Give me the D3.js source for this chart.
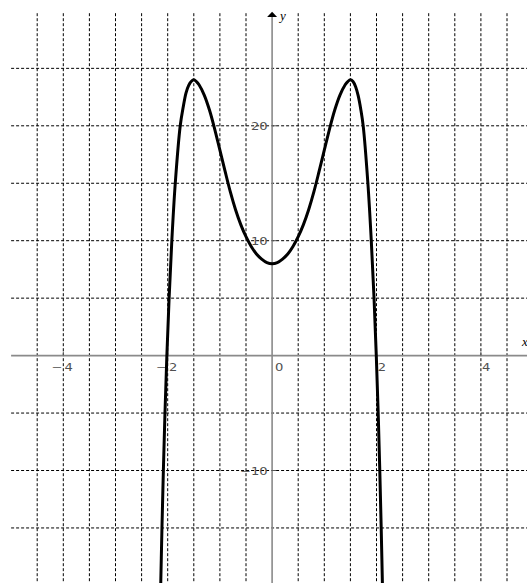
<!DOCTYPE html>
<html>
<head>
<meta charset="utf-8">
<script src="https://cdn.jsdelivr.net/npm/d3@7"></script>
<style>
  html, body { margin: 0; padding: 0; background: #fff; }
  svg { display: block; }
</style>
</head>
<body>
<svg id="chart" width="527" height="583"></svg>
<script>
// ---- data ----
const curveX = [-2.16, -2.134, -2.110, -2.083, -2.052, -2.016, -1.973, -1.921, -1.855, -1.76, -1.70, -1.65, -1.60, -1.55, -1.50, -1.45, -1.40, -1.30, -1.20, -1.10, -1.00, -0.90, -0.80, -0.70, -0.60, -0.50, -0.40, -0.30, -0.20, -0.10, 0.00, 0.10, 0.20, 0.30, 0.40, 0.50, 0.60, 0.70, 0.80, 0.90, 1.00, 1.10, 1.20, 1.30, 1.40, 1.45, 1.50, 1.55, 1.60, 1.65, 1.70, 1.745, 1.835, 1.900, 1.953, 1.996, 2.032, 2.063, 2.090, 2.114, 2.14];
const curveY = [-25, -20, -15, -10, -5, 0, 5, 10, 15, 20, 21.7, 22.85, 23.5, 23.85, 24.0, 23.85, 23.57, 22.67, 21.37, 19.72, 17.88, 16.03, 14.25, 12.7, 11.4, 10.35, 9.5, 8.85, 8.4, 8.1, 8.0, 8.1, 8.4, 8.85, 9.5, 10.35, 11.4, 12.7, 14.25, 16.03, 17.88, 19.72, 21.37, 22.67, 23.57, 23.85, 24.0, 23.85, 23.4, 22.6, 21.4, 20, 15, 10, 5, 0, -5, -10, -15, -20, -25];
const xTickValues = [-4, -2, 0, 2, 4];
const yTickValues = [-10, 10, 20];
const xGridValues = [-4.5, -4, -3.5, -3, -2.5, -2, -1.5, -1, -0.5, 0.5, 1, 1.5, 2, 2.5, 3, 3.5, 4, 4.5];
const yGridValues = [-15, -10, -5, 5, 10, 15, 20, 25];
const xDomain = [-5, 5];
const yDomain = [30, -20];

// ---- drawing ----
const svg = d3.select("#chart");
const x = d3.scaleLinear().domain(xDomain).range([11.1, 533.1]);
const y = d3.scaleLinear().domain(yDomain).range([10.9, 585.4]);

svg.append("defs").append("clipPath").attr("id", "plot")
  .append("rect").attr("x", x(-5)).attr("y", y(30))
  .attr("width", x(5) - x(-5)).attr("height", y(-20) - y(30));

// grid
const grid = svg.append("g");
grid.selectAll("line.v").data(xGridValues).join("line")
  .attr("class", "v")
  .attr("x1", d => x(d)).attr("x2", d => x(d))
  .attr("y1", y(29.8)).attr("y2", y(-20))
  .attr("stroke", "#000").attr("stroke-width", 1)
  .attr("stroke-dasharray", "3,2");
grid.selectAll("line.h").data(yGridValues).join("line")
  .attr("class", "h")
  .attr("x1", x(-5)).attr("x2", x(5))
  .attr("y1", d => y(d)).attr("y2", d => y(d))
  .attr("stroke", "#000").attr("stroke-width", 1)
  .attr("stroke-dasharray", "3,2");

// axes
const axisColor = "#8a8a8a";
svg.append("line")
  .attr("x1", x(-5)).attr("x2", x(5) - 4)
  .attr("y1", y(0)).attr("y2", y(0))
  .attr("stroke", axisColor).attr("stroke-width", 1.6);
svg.append("line")
  .attr("x1", x(0)).attr("x2", x(0))
  .attr("y1", y(-20)).attr("y2", y(30) + 4)
  .attr("stroke", axisColor).attr("stroke-width", 1.6);

// arrow heads
svg.append("path")
  .attr("d", `M${x(0)},${y(30) + 0.8} L${x(0) - 5},${y(30) + 6} L${x(0) + 5},${y(30) + 6} Z`)
  .attr("fill", "#000");
svg.append("path")
  .attr("d", `M${x(5)},${y(0)} L${x(5) - 6},${y(0) - 6} L${x(5) - 6},${y(0) + 6} Z`)
  .attr("fill", "#000");

// axis names
svg.append("text").attr("x", x(0) + 8).attr("y", y(30) + 9)
  .attr("font-family", "Liberation Serif, serif").attr("font-style", "italic")
  .attr("font-size", 13).attr("fill", "#000").text("y");
svg.append("text").attr("x", x(5) - 11).attr("y", y(0) - 10)
  .attr("font-family", "Liberation Serif, serif").attr("font-style", "italic")
  .attr("font-size", 13).attr("fill", "#000").text("x");

// tick marks
svg.selectAll("line.xt").data(xTickValues.filter(d => d !== 0)).join("line")
  .attr("class", "xt")
  .attr("x1", d => x(d)).attr("x2", d => x(d))
  .attr("y1", y(0) - 4).attr("y2", y(0))
  .attr("stroke", "#555").attr("stroke-width", 1);
svg.selectAll("line.yt").data(yTickValues).join("line")
  .attr("class", "yt")
  .attr("x1", x(0)).attr("x2", x(0) + 4)
  .attr("y1", d => y(d)).attr("y2", d => y(d))
  .attr("stroke", "#555").attr("stroke-width", 1);

// tick labels (slightly widened glyphs, as in the picture)
const labelFont = "DejaVu Sans, sans-serif";
const labelColor = "#505050";
const sx = 1.25;
function label(g, px, py, anchor, txt) {
  g.append("text")
    .attr("transform", `translate(${px},${py}) scale(${sx},1)`)
    .attr("text-anchor", anchor)
    .text(txt);
}
const xl = svg.append("g").attr("font-family", labelFont).attr("font-size", 10.5).attr("fill", labelColor);
xTickValues.forEach(v => {
  const px = x(v);
  label(xl, v === 0 ? px + 3 : px + 1.2, y(0) + 15, "start", String(Math.abs(v)));
  if (v < 0) label(xl, px - 0.8, y(0) + 15, "end", "\u2212");
});
const yl = svg.append("g").attr("font-family", labelFont).attr("font-size", 10.5).attr("fill", labelColor);
yTickValues.forEach(v => {
  label(yl, x(0) - 4.5, y(v) + 4, "end", v < 0 ? "\u2212" + Math.abs(v) : String(v));
});

// the curve
const pts = curveX.map((d, i) => [d, curveY[i]]);
const line = d3.line()
  .x(d => x(d[0])).y(d => y(d[1]))
  .curve(d3.curveCatmullRom.alpha(0.5));
svg.append("path")
  .attr("clip-path", "url(#plot)")
  .attr("d", line(pts))
  .attr("fill", "none")
  .attr("stroke", "#000")
  .attr("stroke-width", 3)
  .attr("stroke-linejoin", "round");
</script>
</body>
</html>
